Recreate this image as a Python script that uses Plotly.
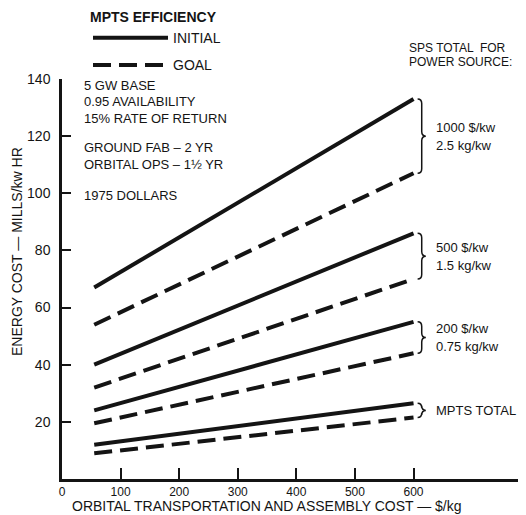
import plotly.graph_objects as go

# transport + assembly cost, $/kg (line end points)
x_cost = [55, 600]

# energy cost, mills/kw hr  -- initial (solid) and goal (dashed) MPTS efficiency
sps1000_initial = [67, 133]
sps1000_goal = [54, 107]
sps500_initial = [40, 86]
sps500_goal = [32, 70]
sps200_initial = [24, 55]
sps200_goal = [19.5, 44]
mpts_initial = [12, 26.5]
mpts_goal = [9, 21.5]

groups = [
    ("1000 $/kw", "2.5 kg/kw", sps1000_initial, sps1000_goal),
    ("500 $/kw", "1.5 kg/kw", sps500_initial, sps500_goal),
    ("200 $/kw", "0.75 kg/kw", sps200_initial, sps200_goal),
    ("MPTS TOTAL", None, mpts_initial, mpts_goal),
]

y_ticks = [20, 40, 60, 80, 100, 120, 140]
x_ticks = [0, 100, 200, 300, 400, 500, 600]

notes = [
    ("5 GW BASE", 137.6),
    ("0.95 AVAILABILITY", 132),
    ("15% RATE OF RETURN", 126.3),
    ("GROUND FAB \u2013 2 YR", 115.9),
    ("ORBITAL OPS \u2013 1\u00bd YR", 110.2),
    ("1975 DOLLARS", 99.3),
]

INK = "#141414"
FONT = "Liberation Sans, Arial, sans-serif"
DASH = "18px,8px"

# page body has an 8px margin, so the figure is 8px smaller than the window
W, H = 518, 507
ML, MT, MB = 54, 71, 36
PW, PH = W - ML, H - MT - MB


def brace(y_top, y_bot, x0=607, w=14, r=1.6):
    """Curly right brace drawn as an SVG path in data coordinates."""
    ym = (y_top + y_bot) / 2
    xs = x0 + w / 2
    return (f"M {x0},{y_top} Q {xs},{y_top} {xs},{y_top - r} "
            f"L {xs},{ym + r} Q {xs},{ym} {x0 + w},{ym} "
            f"Q {xs},{ym} {xs},{ym - r} L {xs},{y_bot + r} "
            f"Q {xs},{y_bot} {x0},{y_bot}")


fig = go.Figure()
for i, (lab1, lab2, init, goal) in enumerate(groups):
    fig.add_trace(go.Scatter(
        x=x_cost, y=init, mode="lines",
        line=dict(color=INK, width=4),
        name="INITIAL", legendgroup="a", showlegend=(i == 0),
    ))
    fig.add_trace(go.Scatter(
        x=x_cost, y=goal, mode="lines",
        line=dict(color=INK, width=4, dash=DASH),
        name="GOAL", legendgroup="b", showlegend=(i == 0),
    ))

shapes = []
annotations = []
for lab1, lab2, init, goal in groups:
    top, bot = init[-1], goal[-1]
    ym = (top + bot) / 2
    shapes.append(dict(type="path", path=brace(top, bot), xref="x", yref="y",
                       line=dict(color=INK, width=1.5)))
    if lab2:
        annotations.append(dict(x=635, y=ym + 3.2, text=lab1))
        annotations.append(dict(x=635, y=ym - 3.2, text=lab2))
    else:
        annotations.append(dict(x=635, y=ym, text=lab1))

for txt, y in notes:
    annotations.append(dict(x=34, y=y, text=txt))

for a in annotations:
    a.update(xref="x", yref="y", xanchor="left", yanchor="middle",
             showarrow=False, font=dict(size=13, color=INK, family=FONT))

# header above the right-hand labels (outside the y range -> paper coords)
for txt, py in [("SPS TOTAL  FOR", 48), ("POWER SOURCE:", 62)]:
    annotations.append(dict(
        text=txt, xref="paper", yref="paper",
        x=(407 - 62) / PW, y=(479 - py) / PH,
        xanchor="left", yanchor="middle", showarrow=False,
        font=dict(size=12, color=INK, family=FONT),
    ))

annotations.append(dict(
    text="ORBITAL TRANSPORTATION AND ASSEMBLY COST \u2014 $/kg",
    xref="paper", yref="paper", x=(267 - 62) / PW, y=-(506 - 479) / PH,
    xanchor="center", yanchor="middle", showarrow=False,
    font=dict(size=14, color=INK, family=FONT),
))
annotations.append(dict(
    text="ENERGY COST \u2014 MILLS/kw HR", textangle=-90,
    xref="paper", yref="paper", x=-(62 - 17) / PW, y=(479 - 252) / PH,
    xanchor="center", yanchor="middle", showarrow=False,
    font=dict(size=14, color=INK, family=FONT),
))

fig.update_layout(
    width=W, height=H,
    margin=dict(l=ML, r=0, t=MT, b=MB, autoexpand=False),
    paper_bgcolor="white", plot_bgcolor="white",
    font=dict(family=FONT, color=INK, size=14),
    shapes=shapes, annotations=annotations,
    legend=dict(
        title=dict(text="<b>MPTS EFFICIENCY</b>", side="top", font=dict(size=14)),
        x=(88 - 62) / PW, y=(479 - 4) / PH, xanchor="left", yanchor="top",
        itemwidth=75, tracegroupgap=6, bgcolor="rgba(0,0,0,0)",
        font=dict(size=14),
    ),
    xaxis=dict(
        range=[0, 792], tickvals=x_ticks, ticks="inside", ticklen=11,
        tickwidth=1.5, tickcolor=INK, showline=True, linecolor=INK, linewidth=2.5,
        showgrid=False, zeroline=False, tickfont=dict(size=12),
    ),
    yaxis=dict(
        range=[0, 140], tickvals=y_ticks, ticks="inside", ticklen=9,
        tickwidth=1.5, tickcolor=INK, showline=True, linecolor=INK, linewidth=2.5,
        showgrid=False, zeroline=False, tickfont=dict(size=14), ticklabelstandoff=6,
    ),
)

fig.write_html("out.html")
